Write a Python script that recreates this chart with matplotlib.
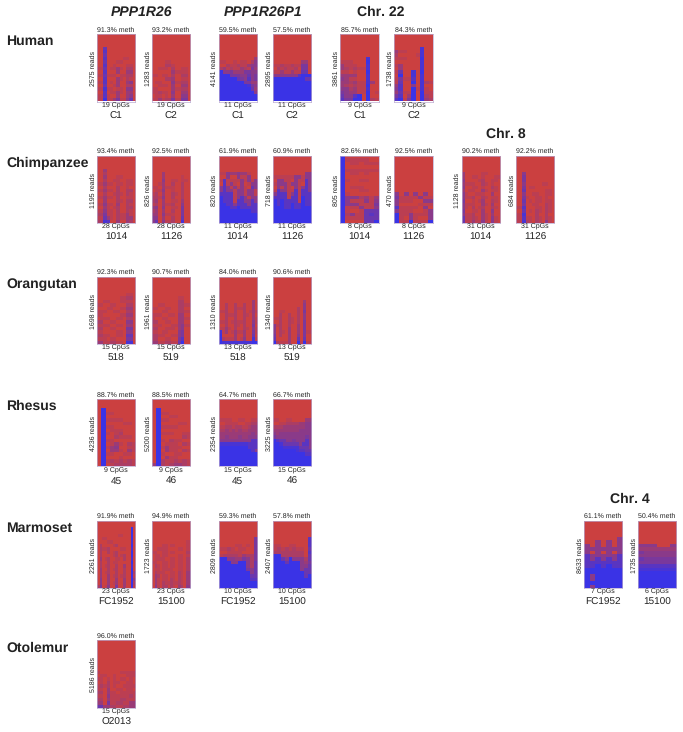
import numpy as np
import matplotlib
matplotlib.use('Agg')
from matplotlib import pyplot as plt
from matplotlib.colors import LinearSegmentedColormap

plt.rcParams['font.family'] = ['Liberation Sans', 'DejaVu Sans']
plt.rcParams['text.hinting'] = 'no_hinting'
plt.rcParams['text.hinting_factor'] = 1

W, H = 683, 732
N_ROWS = 20

# blue level, 0 = all red, 9 = all blue. Rows run down to the panel bottom
human_a1 = ["006000000000", "007000000000", "006000000000", "007000001100", "006000110000", "007001000110",
            "116011310220", "007000300330", "116111011220", "007000310210", "117010300340", "006001300220",
            "118110110440", "007011310330", "117100300340", "119113511460"]
human_a2 = ["000011000000", "000022100000", "001110200110", "000000311110", "110110200220", "000022300110",
            "011000411220", "001110300330", "110000311220", "112110400330", "011010300440", "113122511550"]
human_b1 = ["00000000003", "11001011024", "00211211344", "23121132153", "94453335544", "99955544645",
            "99999654745", "99999995533", "99999999854", "99999999963", "99999999994", "99999999999", "99999999999"]
human_b2 = ["00000000330", "11211211550", "02121120550", "11311311660", "44444447999", "99999999966",
            "99999999999", "99999999999", "99999999999", "99999999999", "99999999999", "99999999999"]
human_c1 = ["000000800", "111000900", "311100800", "321211800", "110100900", "333300800", "431100800",
            "332311830", "321211900", "442311800", "543311901", "644790900", "755990921"]
human_c2 = ["000000800", "311000800", "200001800", "111000900", "000000800", "130000800", "030000800", "160080900",
            "090080800", "151170800", "160090821", "370040800", "470091810", "361190911", "570390921", "791590932"]

chimp_a1 = ["003000000000", "002000000000", "003000110000", "002001100110", "113110110110", "002000200100",
            "113110200220", "002001210210", "113110200110", "003000210220", "114110300210", "003101200220",
            "114110200210", "225110211310", "116310211330", "228700300320"]
chimp_a2 = ["000300000000", "000300000100", "000400110110", "001300200200", "110311100200", "011400100200",
            "120300210200", "221400200200", "230300110300", "120311200400", "340400110500", "230300200500",
            "330411100500", "440300200600", "460411200800"]
chimp_b1 = ["00000000000", "11433433100", "00400411400", "17111141414", "07141040144", "47414141064", "47441441441",
            "77771441441", "97771474144", "97771774474", "99774777477", "99977977777", "99999999977", "99999999999",
            "99999999999", "99999999999"]
chimp_b2 = ["00000000044", "11111144144", "04411041174", "14441441074", "04141041474", "17441171774", "47771471777",
            "77771771977", "97977771977", "97977977977", "99977977999", "99999999999", "99999999999", "99999999999",
            "99999999999"]
chimp_c1 = ["90000000", "91111100", "90110111", "90000000", "91111111", "90110100", "90000000", "91001100", "90000000",
            "90111000", "90001100", "91000000", "94442313", "94111414", "94441115", "91114114", "91001666", "92411676",
            "91111666", "90000669"]
chimp_c2 = ["40404040", "51111411", "41110044", "40000111", "71111040", "41110014", "91141114", "91041004", "91191119"]
chimp_d1 = ["000000000000", "300000110000", "300110100011", "400001200110", "311100210100", "400110100210",
            "301100310110", "410011100300", "411200210110", "500101300210", "411100310300", "410201200210",
            "500110300400", "411200310300", "611210310410", "611311410410"]
chimp_d2 = ["004000000000", "005000000000", "005000000000", "004000001100", "005011000000", "006000000110",
            "004001100110", "005100110100", "006010110110", "005001100210", "117000110210", "006010210210",
            "118000200200", "117110210210", "118210210410"]

orang_a1 = ["000000000000", "000000000110", "000000011220", "001100011110", "110011000220", "000110011330",
            "111001100220", "110000011330", "011100110220", "220011000440", "111100110330", "220011000550",
            "110000110440", "221100110660", "111011000550", "331122110880"]
orang_a2 = ["000000001100", "000000002200", "001100002211", "110011002200", "000110002211", "111001103300",
            "100110003311", "220011003300", "111000113411", "220011103400", "110110004500", "221100114500",
            "220011005700", "331122116900"]
orang_b1 = ["0000000000000", "0000000000030", "0020020020030", "0020021120030", "1120020020131", "0021120021030",
            "0020020020031", "1120121120041", "0020021020050", "1131020021041", "8130131130051", "9000030030060",
            "9211130140081", "9888888888899"]
orang_b2 = ["0000000000300", "0000000000400", "0000000020400", "0011000020500", "0020020020400", "1120021020400",
            "0020021020500", "4120020030500", "4020030030500", "4021030030511", "5020030040500", "6000030060600",
            "9211130091911"]

rhesus_a1 = ["090000000", "091100000", "090000000", "091111000", "090000110", "091100000", "090111000", "091012000",
             "090021110", "091100000", "090131021", "091340011", "090331031", "091100110", "090001000", "091212121",
             "090122221"]
rhesus_a2 = ["090000000", "091100000", "090011000", "091100000", "090000110", "091111000", "090000000", "091110011",
             "090000021", "091021100", "090111021", "091311100", "090311021", "091001100", "090311000", "092112121",
             "392123321"]
rhesus_b1 = ["000000000000", "111100110011", "001111001122", "112212211233", "223232322333", "333333333343",
             "334333433444", "444444444477", "888888888777", "999999999777", "999999999974", "999999999999",
             "999999999999", "999999999999", "999999999999"]
rhesus_b2 = ["000000000000", "110011000033", "001122223344", "222333333344", "333333334444", "434444444444",
             "544444444454", "976644544474", "998666664774", "999888886664", "999999987766", "999999999977",
             "999999999999", "999999999999", "999999999999"]

marm_a1 = ["000000000000090", "000000000000090", "000000001100090", "001100000000090", "000011000000080",
           "020000120000090", "021120000110080", "020020120000090", "020000120120090", "030120011020080",
           "020020110000090", "020120020030080", "030020120020090", "030120020020092", "030030120120091",
           "040030030030093", "040030130030092", "250140050030091"]
marm_a2 = ["000000000000000", "000000000000011", "000011011000011", "001111000011011", "110011011000022",
           "011011000011011", "011110011011022", "110011011011022", "021011011011022", "011011110011022",
           "021110011021033", "032011011021033", "031011021021033", "031021121121033", "041022021032044"]
marm_b1 = ["0000000005", "0000000005", "0000110105", "1121011005", "0011110005", "1222213225", "9944335425",
           "9994499426", "9999999426", "9999999546", "9999999946", "9999999966", "9999999977", "9999999999",
           "9999999999"]
marm_b2 = ["0000000007", "0000000007", "1100110007", "1212121106", "2222222207", "9922222206", "9964944426",
           "9996999435", "9999999446", "9999999466", "9999999966", "9999999969", "9999999999", "9999999999",
           "9999999999"]
marm_c1 = ["0000000", "0000000", "0000000", "0000004", "0040404", "4040404", "4444444", "4040404", "7444447",
           "7474747", "7777777", "7797977", "9999999", "9999999", "9499999", "9499999", "9999999", "9499999"]
marm_c2 = ["000000", "000000", "000000", "000000", "000000", "444004", "333333", "544444", "444444", "655555",
           "555555", "777777", "888888", "999999", "999999", "999999", "999999", "999999"]

oto_a1 = ["100000011111", "011001000111", "110101011010", "010201100110", "121201001111", "110300110110",
          "220311011111", "110411111121", "220311122111", "330511221133", "663322112233"]

row_names = ["Human", "Chimpanzee", "Orangutan", "Rhesus", "Marmoset", "Otolemur"]
col_titles = ["PPP1R26", "PPP1R26P1", "Chr. 22", "Chr. 8", "Chr. 4"]

human_pct = ["91.3", "93.2", "59.5", "57.5", "85.7", "84.3"]
human_reads = [2575, 1283, 4141, 2895, 3861, 1738]
human_cpgs = [19, 19, 11, 11, 9, 9]
human_samples = ["C1", "C2", "C1", "C2", "C1", "C2"]
human_maps = [human_a1, human_a2, human_b1, human_b2, human_c1, human_c2]

chimp_pct = ["93.4", "92.5", "61.9", "60.9", "82.6", "92.5", "90.2", "92.2"]
chimp_reads = [1195, 826, 820, 718, 805, 470, 1128, 684]
chimp_cpgs = [28, 28, 11, 11, 8, 8, 31, 31]
chimp_samples = ["1014", "1126", "1014", "1126", "1014", "1126", "1014", "1126"]
chimp_maps = [chimp_a1, chimp_a2, chimp_b1, chimp_b2, chimp_c1, chimp_c2, chimp_d1, chimp_d2]

orang_pct = ["92.3", "90.7", "84.0", "90.6"]
orang_reads = [1698, 1961, 1310, 1340]
orang_cpgs = [15, 15, 13, 13]
orang_samples = ["518", "519", "518", "519"]
orang_maps = [orang_a1, orang_a2, orang_b1, orang_b2]

rhesus_pct = ["88.7", "88.5", "64.7", "66.7"]
rhesus_reads = [4236, 5200, 2354, 3225]
rhesus_cpgs = [9, 9, 15, 15]
rhesus_samples = ["45", "46", "45", "46"]
rhesus_maps = [rhesus_a1, rhesus_a2, rhesus_b1, rhesus_b2]

marm_pct = ["91.9", "94.9", "59.3", "57.8", "61.1", "50.4"]
marm_reads = [2261, 1723, 2809, 2407, 8633, 1735]
marm_cpgs = [23, 23, 10, 10, 7, 6]
marm_samples = ["FC1952", "15100", "FC1952", "15100", "FC1952", "15100"]
marm_maps = [marm_a1, marm_a2, marm_b1, marm_b2, marm_c1, marm_c2]

oto_pct = ["96.0"]
oto_reads = [5186]
oto_cpgs = [15]
oto_samples = ["O2013"]
oto_maps = [oto_a1]

# layout in pixels of the picture
ROW_TOPS = [34, 155.5, 276.5, 399, 520.5, 640]
ROW_NAME_Y = [41, 163, 284, 406, 528, 648]
COL_LEFTS = [97, 152, 218.5, 273, 340.3, 394.3, 461.5, 516, 584, 638]
PANEL_W, PANEL_H = 38.3, 67.5
TITLE_POS = [(141, 12), (263, 12), (381, 12), (506, 134), (630, 499)]

cmap = LinearSegmentedColormap.from_list('meth', ['#CB4040', '#3A33E6'])

fig = plt.figure(figsize=(W / 100, H / 100), dpi=100)


def put_text(x, y, s, **kwargs):
    fig.text(x / W, 1 - y / H, s, ha=kwargs.pop('ha', 'center'), va='center', color='#222222', **kwargs)


def draw_panel(left, top, pct, reads, cpgs, sample, rows):
    grid = np.array([[int(c) for c in row] for row in rows], dtype=float)
    pad = np.zeros((N_ROWS - len(rows), grid.shape[1]))
    grid = np.vstack([pad, grid])
    ax = fig.add_axes([left / W, 1 - (top + PANEL_H) / H, PANEL_W / W, PANEL_H / H])
    ax.imshow(grid, cmap=cmap, vmin=0, vmax=9, aspect='auto', interpolation='nearest')
    ax.set_xticks([])
    ax.set_yticks([])
    for spine in ax.spines.values():
        spine.set_color('#B9A9D0')
        spine.set_linewidth(0.5)
    cx = left + PANEL_W / 2
    put_text(cx, top - 4.2, f"{pct}% meth", fontsize=4.9)
    put_text(cx, top + PANEL_H + 4.2, f"{cpgs} CpGs", fontsize=4.9)
    put_text(cx, top + PANEL_H + 14.5, sample, fontsize=7.1)
    put_text(left - 4, top + PANEL_H / 2 + 1, f"{reads} reads", fontsize=4.9, rotation=90)


rows_info = [
    (human_pct, human_reads, human_cpgs, human_samples, human_maps, [0, 1, 2, 3, 4, 5]),
    (chimp_pct, chimp_reads, chimp_cpgs, chimp_samples, chimp_maps, [0, 1, 2, 3, 4, 5, 6, 7]),
    (orang_pct, orang_reads, orang_cpgs, orang_samples, orang_maps, [0, 1, 2, 3]),
    (rhesus_pct, rhesus_reads, rhesus_cpgs, rhesus_samples, rhesus_maps, [0, 1, 2, 3]),
    (marm_pct, marm_reads, marm_cpgs, marm_samples, marm_maps, [0, 1, 2, 3, 8, 9]),
    (oto_pct, oto_reads, oto_cpgs, oto_samples, oto_maps, [0]),
]

for i, (pcts, reads, cpgs, samples, maps, cols) in enumerate(rows_info):
    put_text(6, ROW_NAME_Y[i], row_names[i], ha='left', fontsize=10.3, fontweight='bold')
    for j, col in enumerate(cols):
        draw_panel(COL_LEFTS[col], ROW_TOPS[i], pcts[j], reads[j], cpgs[j], samples[j], maps[j])

for k, title in enumerate(col_titles):
    style = 'italic' if k < 2 else 'normal'
    put_text(TITLE_POS[k][0], TITLE_POS[k][1], title, fontsize=10.3, fontweight='bold', fontstyle=style)

fig.savefig('out.png', dpi=100)
